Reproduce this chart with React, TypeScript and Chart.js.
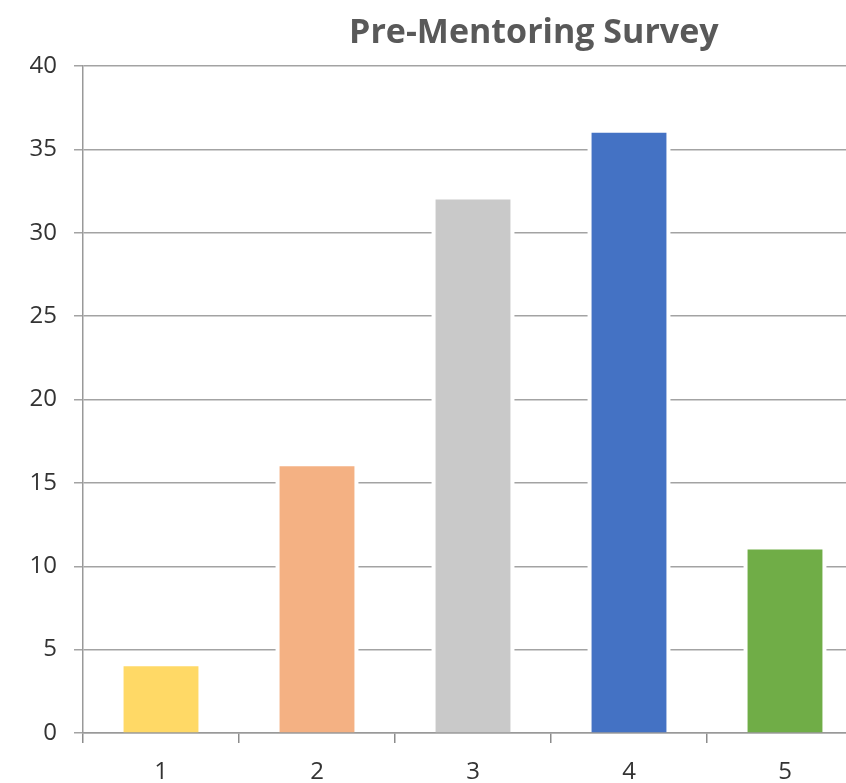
import React, { useEffect, useRef } from "react";
import { Chart, registerables } from "chart.js";

Chart.register(...registerables);

const categories = ["1", "2", "3", "4", "5"];
const responses = [4, 16, 32, 36, 11];
const barColors = ["#FFD966", "#F4B183", "#C9C9C9", "#4472C4", "#70AD47"];
const yTicks = [0, 5, 10, 15, 20, 25, 30, 35, 40];
const chartTitle = "Pre-Mentoring Survey";

const FONT = "'Open Sans', 'DejaVu Sans', sans-serif";
const CANVAS_W = 900;
const CANVAS_H = 783;

// White halo behind each bar so the gridlines stop short of the column edges.
const barHalo = {
  id: "barHalo",
  beforeDatasetsDraw(chart: any) {
    const ctx = chart.ctx;
    const meta = chart.getDatasetMeta(0);
    ctx.save();
    ctx.fillStyle = "#ffffff";
    meta.data.forEach((bar: any) => {
      const { x, y, base, width } = bar.getProps(["x", "y", "base", "width"], true);
      const pad = 4;
      ctx.fillRect(x - width / 2 - pad, y - pad, width + pad * 2, base - y + pad - 1);
    });
    ctx.restore();
  },
};

// Title drawn above the plot, offset toward the right as in the original layout.
const titlePlugin = {
  id: "offsetTitle",
  afterDraw(chart: any) {
    const ctx = chart.ctx;
    const area = chart.chartArea;
    ctx.save();
    ctx.font = `bold 34px ${FONT}`;
    ctx.fillStyle = "#595959";
    ctx.textAlign = "center";
    ctx.textBaseline = "alphabetic";
    ctx.fillText(chartTitle, area.left + (area.right - area.left) * 0.578, 43);
    ctx.restore();
  },
};

export default function App() {
  const canvasRef = useRef<HTMLCanvasElement | null>(null);

  useEffect(() => {
    if (!canvasRef.current) return;
    const chart = new Chart(canvasRef.current, {
      type: "bar",
      data: {
        labels: categories,
        datasets: [
          {
            data: responses,
            backgroundColor: barColors,
            borderWidth: 0,
            categoryPercentage: 1,
            barPercentage: 0.48,
          },
        ],
      },
      options: {
        animation: false,
        responsive: false,
        devicePixelRatio: 1,
        layout: { padding: { top: 66, right: CANVAS_W - 863, left: 0, bottom: 0 } },
        plugins: {
          legend: { display: false },
          title: { display: false },
          tooltip: { enabled: false },
        },
        scales: {
          x: {
            offset: true,
            grid: {
              offset: true,
              drawOnChartArea: false,
              drawTicks: true,
              tickLength: 10,
              color: "#8c8c8c",
              lineWidth: 1.5,
            },
            border: { display: true, color: "#999999", width: 1.5 },
            ticks: {
              color: "#333333",
              font: { family: FONT, size: 24 },
              padding: 15,
            },
            afterFit(scale: any) {
              scale.height = 50;
            },
          },
          y: {
            min: 0,
            max: 40,
            afterBuildTicks(scale: any) {
              scale.ticks = yTicks.map((v) => ({ value: v }));
            },
            grid: {
              color: "#a3a3a3",
              lineWidth: 1.5,
              tickLength: 9,
            },
            border: { display: true, color: "#999999", width: 1.5 },
            ticks: {
              color: "#333333",
              font: { family: FONT, size: 24 },
              padding: 17,
            },
            afterFit(scale: any) {
              scale.width = 83;
            },
          },
        },
      },
      plugins: [barHalo, titlePlugin],
    });
    return () => chart.destroy();
  }, []);

  return (
    <div
      style={{
        position: "absolute",
        left: 0,
        top: 0,
        width: 846,
        height: 783,
        overflow: "hidden",
        background: "#ffffff",
      }}
    >
      <canvas ref={canvasRef} width={CANVAS_W} height={CANVAS_H} style={{ display: "block" }} />
    </div>
  );
}
